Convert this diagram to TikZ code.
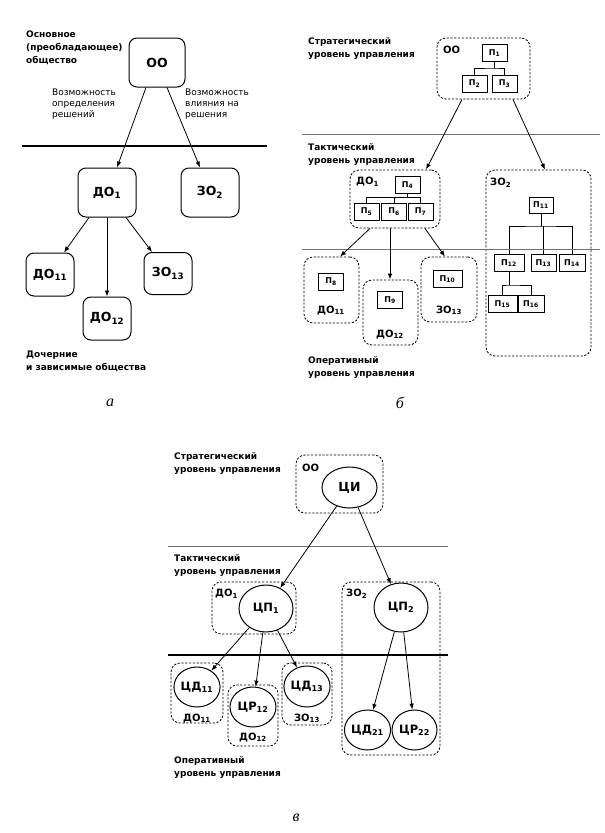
\documentclass[tikz,border=0pt]{standalone}
\usepackage{fontspec}
\setmainfont{DejaVu Sans}
\newfontfamily\capfont{Liberation Serif}
\usetikzlibrary{arrows.meta,shapes.geometric}

\tikzset{
  firm/.style={draw, line width=1pt, rounded corners=8pt, inner sep=0pt,
    font=\bfseries\fontsize{12.5}{14}\selectfont},
  group/.style={draw, dash pattern=on 2.2pt off 1.6pt, line width=0.8pt,
    rounded corners=9pt, inner sep=0pt},
  unit/.style={draw, line width=0.9pt, minimum width=25, minimum height=17,
    inner sep=0pt, font=\bfseries\fontsize{8}{9}\selectfont},
  hub/.style={draw, ellipse, line width=1pt, inner sep=0pt,
    font=\bfseries\fontsize{11.5}{13}\selectfont},
  lbl/.style={anchor=north west, align=left, inner sep=0pt,
    font=\bfseries\fontsize{9}{13}\selectfont},
  note/.style={anchor=north west, align=left, inner sep=0pt,
    font=\fontsize{9}{11}\selectfont},
  tag/.style={inner sep=0pt, font=\bfseries\fontsize{10}{12}\selectfont},
  link/.style={-{Latex[length=6pt,width=4.5pt]}, line width=0.8pt},
  level/.style={line width=0.5pt, black!55},
  bound/.style={line width=1.1pt},
  caption/.style={inner sep=0pt, font=\capfont\itshape\fontsize{16}{18}\selectfont}
}

\begin{document}
\begin{tikzpicture}[x=1pt,y=-1pt]
\useasboundingbox (0,0) rectangle (605,833);

% ---- a
\node[lbl] (amain) at (26,31) {Основное\\(преобладающее)\\общество};
\node[firm, minimum width=56, minimum height=49] (aoo) at (157,62.5) {ОО};
\node[note] (adef) at (52,89) {Возможность\\определения\\решений};
\node[note] (ainf) at (185,89) {Возможность\\влияния на\\решения};
\draw[bound] (22,146) -- (267,146);
\node[firm, minimum width=58, minimum height=49] (ado1) at (107,192.5) {ДО\textsubscript{1}};
\node[firm, minimum width=58, minimum height=49] (azo2) at (210,192.5) {ЗО\textsubscript{2}};
\node[firm, minimum width=48, minimum height=43] (ado11) at (50,274.5) {ДО\textsubscript{11}};
\node[firm, minimum width=48, minimum height=42] (azo13) at (168,273.5) {ЗО\textsubscript{13}};
\node[firm, minimum width=48, minimum height=43] (ado12) at (107,318.5) {ДО\textsubscript{12}};
\draw[link] ([xshift=-11]aoo.south) -- ([xshift=10]ado1.north);
\draw[link] ([xshift=10]aoo.south) -- ([xshift=-10]azo2.north);
\draw[link] ([xshift=-18]ado1.south) -- ([xshift=14]ado11.north);
\draw[link] (ado1.south) -- (ado12.north);
\draw[link] ([xshift=19]ado1.south) -- ([xshift=-16]azo13.north);
\node[lbl] (asub) at (26,351) {Дочерние\\и зависимые общества};
\node[caption] (acap) at (110,403) {а};

% ---- б
\node[lbl] (bstr) at (308,37) {Стратегический\\уровень управления};
\node[group, minimum width=93, minimum height=61] (boo) at (483.5,68.5) {};
\node[tag, anchor=north west] (boot) at (443,46) {ОО};
\node[unit] (p1) at (494.5,53) {П\textsubscript{1}};
\node[unit] (p2) at (474.5,83.5) {П\textsubscript{2}};
\node[unit] (p3) at (504.5,83.5) {П\textsubscript{3}};
\coordinate (j1) at (494.5,68);
\draw[line width=0.8pt] (p1.south) -- (j1);
\draw[line width=0.8pt] (p2.north) |- (j1) -| (p3.north);

\draw[level] (302,134) -- (600,134);
\node[lbl] (btac) at (308,143) {Тактический\\уровень управления};

\node[group, minimum width=90, minimum height=58] (bdo1) at (395,199) {};
\node[tag, anchor=north west] (bdo1t) at (356,177) {ДО\textsubscript{1}};
\node[unit] (p4) at (407.5,185) {П\textsubscript{4}};
\node[unit] (p5) at (366.5,211.5) {П\textsubscript{5}};
\node[unit] (p6) at (394,211.5) {П\textsubscript{6}};
\node[unit] (p7) at (420.5,211.5) {П\textsubscript{7}};
\coordinate (j4) at (407.5,197.5);
\draw[line width=0.8pt] (p4.south) -- (j4);
\draw[line width=0.8pt] (p5.north) |- (j4) -| (p7.north);
\draw[line width=0.8pt] (p6.north) -- (p6.north |- j4);

\node[group, minimum width=105, minimum height=186] (bzo2) at (538.5,263) {};
\node[tag, anchor=north west] (bzo2t) at (490,178) {ЗО\textsubscript{2}};
\node[unit, minimum width=24, minimum height=16] (p11) at (541,205) {П\textsubscript{11}};
\node[unit, minimum width=30] (p12) at (509,263) {П\textsubscript{12}};
\node[unit] (p13) at (543.5,263) {П\textsubscript{13}};
\node[unit, minimum width=26] (p14) at (572,263) {П\textsubscript{14}};
\node[unit, minimum width=29] (p15) at (502.5,304) {П\textsubscript{15}};
\node[unit, minimum width=26] (p16) at (531,304) {П\textsubscript{16}};
\coordinate (j11) at (541,226);
\draw[line width=0.8pt] (p11.south) -- (j11);
\draw[line width=0.8pt] (p12.north) |- (j11) -| (p14.north);
\draw[line width=0.8pt] (p13.north) -- (p13.north |- j11);
\coordinate (j12) at (509,285);
\draw[line width=0.8pt] (p12.south) -- (j12);
\draw[line width=0.8pt] (p15.north) |- (j12) -| (p16.north);

\draw[level] (302,249) -- (600,249);

\node[group, minimum width=55, minimum height=66] (bdo11) at (331.5,290) {};
\node[unit] (p8) at (331,281.5) {П\textsubscript{8}};
\node[tag, anchor=base] (bdo11t) at (331,313) {ДО\textsubscript{11}};
\node[group, minimum width=55, minimum height=65] (bdo12) at (390.5,312.5) {};
\node[unit] (p9) at (390,300) {П\textsubscript{9}};
\node[tag, anchor=base] (bdo12t) at (390,337) {ДО\textsubscript{12}};
\node[group, minimum width=56, minimum height=65] (bzo13) at (449,289.5) {};
\node[unit, minimum width=29] (p10) at (447.5,279) {П\textsubscript{10}};
\node[tag, anchor=base] (bzo13t) at (449,313) {ЗО\textsubscript{13}};

\draw[link] ([xshift=-21.5]boo.south) -- ([xshift=31]bdo1.north);
\draw[link] ([xshift=29.5]boo.south) -- ([xshift=6.5]bzo2.north);
\draw[link] ([xshift=-25]bdo1.south) -- ([xshift=8.5]bdo11.north);
\draw[link] ([xshift=-5]bdo1.south) -- ([xshift=-0.5]bdo12.north);
\draw[link] ([xshift=30]bdo1.south) -- ([xshift=-4]bzo13.north);

\node[lbl] (bop) at (308,356) {Оперативный\\уровень управления};
\node[caption] (bcap) at (400,403) {б};

% ---- в
\node[lbl] (cstr) at (174,452) {Стратегический\\уровень управления};
\node[group, minimum width=87, minimum height=58] (coo) at (339.5,484) {};
\node[tag, anchor=north west] (coot) at (302,464) {ОО};
\node[hub, minimum width=55, minimum height=41, font=\bfseries\fontsize{12.5}{14}\selectfont] (ci) at (349.5,487.5) {ЦИ};

\draw[level] (168,546) -- (448,546);
\node[lbl] (ctac) at (174,554) {Тактический\\уровень управления};

\node[group, minimum width=84, minimum height=52] (cdo1) at (254,608) {};
\node[tag, anchor=north west] (cdo1t) at (215,589) {ДО\textsubscript{1}};
\node[hub, minimum width=54, minimum height=47] (cp1) at (266,608.5) {ЦП\textsubscript{1}};
\node[group, minimum width=98, minimum height=173] (czo2) at (391,668.5) {};
\node[tag, anchor=north west] (czo2t) at (346,589) {ЗО\textsubscript{2}};
\node[hub, minimum width=54, minimum height=49] (cp2) at (401,607.5) {ЦП\textsubscript{2}};

\draw[bound] (168,655) -- (448,655);

\node[group, minimum width=52, minimum height=60] (cdo11) at (197,693) {};
\node[hub, minimum width=46, minimum height=40] (cd11) at (197,687) {ЦД\textsubscript{11}};
\node[tag, anchor=base] (cdo11t) at (197,721) {ДО\textsubscript{11}};
\node[group, minimum width=50, minimum height=61] (cdo12) at (253,715.5) {};
\node[hub, minimum width=46, minimum height=40] (cr12) at (253,707) {ЦР\textsubscript{12}};
\node[tag, anchor=base] (cdo12t) at (253,740) {ДО\textsubscript{12}};
\node[group, minimum width=50, minimum height=62] (czo13) at (307,694) {};
\node[hub, minimum width=46, minimum height=41] (cd13) at (307,686.5) {ЦД\textsubscript{13}};
\node[tag, anchor=base] (czo13t) at (307,721) {ЗО\textsubscript{13}};
\node[hub, minimum width=45, minimum height=40] (cd21) at (367.5,730) {ЦД\textsubscript{21}};
\node[hub, minimum width=45, minimum height=40] (cr22) at (414.5,730) {ЦР\textsubscript{22}};

\draw[link] (ci) -- (cp1);
\draw[link] (ci) -- (cp2);
\draw[link] (cp1) -- (cd11);
\draw[link] (cp1) -- (cr12);
\draw[link] (cp1) -- (cd13);
\draw[link] (cp2) -- (cd21);
\draw[link] (cp2) -- (cr22);

\node[lbl] (cop) at (174,756) {Оперативный\\уровень управления};
\node[caption] (ccap) at (296,818) {в};
\end{tikzpicture}
\end{document}
